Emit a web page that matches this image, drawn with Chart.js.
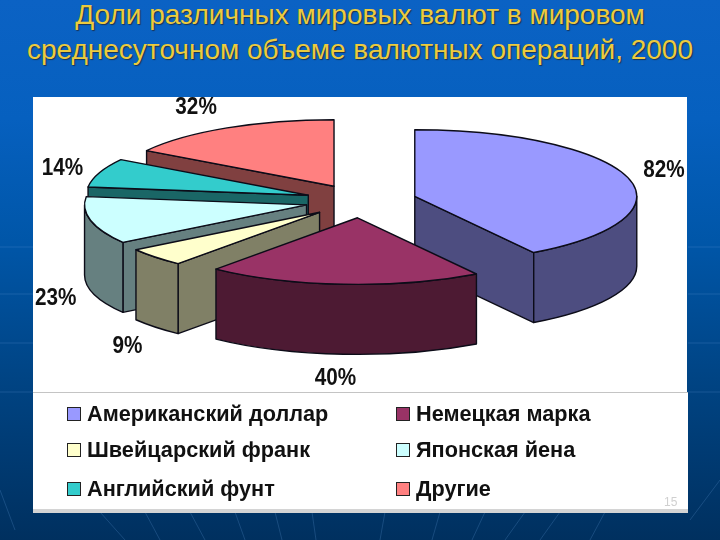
<!DOCTYPE html>
<html>
<head>
<meta charset="utf-8">
<script src="https://cdn.jsdelivr.net/npm/chart.js@4"></script>
<style>
html, body { margin: 0; padding: 0; }
body { width: 720px; height: 540px; overflow: hidden; position: relative; font-family: "Liberation Sans", Arial, sans-serif;
    background: linear-gradient(#0b62c4 0%, #0660bf 22%, #0056a8 45%, #004484 70%, #00305f 100%); }
#bg { position: absolute; left: 0; top: 0; }
#title { position: absolute; left: 0; top: -3px; width: 720px; text-align: center; margin: 0; font-weight: normal;
    font-size: 28px; line-height: 35px; color: #eccb3e; text-shadow: 1px 1px 1px #1c3350; white-space: nowrap; }
#panel { position: absolute; left: 33px; top: 97px; width: 654px; height: 415px; background: #fff; }
#legendBox { position: absolute; left: 33px; top: 392px; width: 655px; height: 116px; background: #fff;
    border-top: 1px solid #c4c4c4; border-bottom: 4px solid #d4d4d4; box-sizing: content-box; }
#chartWrap { position: absolute; left: 0; top: 0; width: 720px; height: 540px; }
.item { position: absolute; font-weight: bold; font-size: 21.7px; line-height: 24px; color: #111; white-space: nowrap; }
.item i { position: absolute; left: -20px; top: 5px; width: 12px; height: 12px; border: 1px solid #222; }
#num { position: absolute; left: 664px; top: 495px; font-size: 12px; color: #d0d0d0; }
</style>
</head>
<body>
<svg id="bg" width="720" height="540" stroke="#5f9ad8" stroke-opacity="0.25" fill="none">
    <path d="M0 247H33M0 294H33M0 343H33M0 392H33M688 247H720M688 294H720M688 343H720M688 392H720"/>
    <path d="M0 490L15 530M100 512L125 540M145 512L160 540M190 512L205 540M235 512L245 540M275 512L282 540M312 512L316 540"/>
    <path d="M385 512L380 540M440 512L432 540M485 512L472 540M525 512L505 540M560 512L540 540M605 512L590 540M720 480L690 520"/>
</svg>
<h1 id="title">Доли различных мировых валют в мировом<br>среднесуточном объеме валютных операций, 2000</h1>
<div id="panel"></div>
<div id="legendBox"></div>
<div id="chartWrap"><canvas id="pie3d" width="720" height="540"></canvas></div>
<div id="legend"></div>
<div id="num">15</div>

<script>
const currencies = ['Американский доллар', 'Немецкая марка', 'Швейцарский франк', 'Японская йена', 'Английский фунт', 'Другие'];
const shares = [82, 40, 9, 23, 14, 32];

const topColors = ['#9999ff', '#993366', '#ffffcc', '#ccffff', '#33cccc', '#ff8080'];
const wallColors = ['#4d4d80', '#4d1a33', '#808066', '#668080', '#1a6666', '#804040'];

// back to front, so nearer slices paint over the ones behind
const drawOrder = [5, 4, 3, 0, 2, 1];
// where each % label sits relative to the middle of its rim
const labelNudge = [[36, -7], [-8, 94], [-28, 90], [-35, 78], [-37, -4], [-31, -20]];

const squash = 0.3;
const depth = 70;
const pieCenterY = 201;

function sliceGeom(arc, offset) {
    const mid = (arc.startAngle + arc.endAngle) / 2;
    return {
        x: arc.x + Math.cos(mid) * offset,
        y: pieCenterY + Math.sin(mid) * offset * squash,
        rx: arc.outerRadius,
        ry: arc.outerRadius * squash,
        start: arc.startAngle,
        end: arc.endAngle,
        mid: mid
    };
}

function paint(ctx, fill) {
    ctx.fillStyle = fill;
    ctx.fill();
    ctx.stroke();
}

function cutFace(ctx, g, angle, wall) {
    const px = g.x + Math.cos(angle) * g.rx, py = g.y + Math.sin(angle) * g.ry;
    ctx.beginPath();
    ctx.moveTo(g.x, g.y);
    ctx.lineTo(px, py);
    ctx.lineTo(px, py + depth);
    ctx.lineTo(g.x, g.y + depth);
    ctx.closePath();
    paint(ctx, wall);
}

function drawSlice(ctx, g, top, wall) {
    // only the cut faces turned towards the viewer
    if (Math.cos(g.start) < 0) cutFace(ctx, g, g.start, wall);
    if (Math.cos(g.end) > 0) cutFace(ctx, g, g.end, wall);

    // rim, only the part that faces the viewer
    const a = Math.max(g.start, 0), b = Math.min(g.end, Math.PI);
    if (b > a) {
        ctx.beginPath();
        ctx.ellipse(g.x, g.y, g.rx, g.ry, 0, a, b);
        ctx.ellipse(g.x, g.y + depth, g.rx, g.ry, 0, b, a, true);
        ctx.closePath();
        paint(ctx, wall);
    }

    ctx.beginPath();
    ctx.moveTo(g.x, g.y);
    ctx.ellipse(g.x, g.y, g.rx, g.ry, 0, g.start, g.end);
    ctx.closePath();
    paint(ctx, top);
}

const pie3d = {
    id: 'pie3d',
    beforeDatasetDraw(chart) {
        const ctx = chart.ctx;
        const arcs = chart.getDatasetMeta(0).data;
        ctx.save();
        ctx.lineWidth = 1.4;
        ctx.lineJoin = 'round';
        ctx.strokeStyle = '#0c0c18';
        drawOrder.forEach(function (i) {
            const offset = arcs[i].options.offset / 4;
            drawSlice(ctx, sliceGeom(arcs[i], offset), topColors[i], wallColors[i]);
        });

        ctx.fillStyle = '#111';
        ctx.textAlign = 'center';
        ctx.textBaseline = 'middle';
        ctx.font = 'bold 23px "Liberation Sans"';
        arcs.forEach(function (arc, i) {
            const g = sliceGeom(arc, arc.options.offset / 4);
            const x = g.x + Math.cos(g.mid) * g.rx + labelNudge[i][0];
            const y = g.y + Math.sin(g.mid) * g.ry + labelNudge[i][1];
            ctx.save();
            ctx.translate(x, y);
            ctx.scale(0.9, 1);
            ctx.fillText(shares[i] + '%', 0, 0);
            ctx.restore();
        });
        ctx.restore();
        return false;
    }
};

new Chart(document.getElementById('pie3d').getContext('2d'), {
    type: 'pie',
    data: {
        labels: currencies,
        datasets: [{
            data: shares,
            backgroundColor: topColors,
            offset: 224,
            borderWidth: 0
        }]
    },
    options: {
        responsive: false,
        animation: false,
        radius: 222,
        layout: { padding: { left: 2 } },
        plugins: {
            legend: { display: false },
            tooltip: { enabled: false }
        }
    },
    plugins: [pie3d]
});

// legend fills two columns, row by row
const legendDiv = document.getElementById('legend');
const colX = [87, 416];
const rowY = [402, 438, 477];
currencies.forEach(function (name, i) {
    const el = document.createElement('div');
    el.className = 'item';
    el.style.left = colX[i % 2] + 'px';
    el.style.top = rowY[Math.floor(i / 2)] + 'px';
    el.innerHTML = '<i style="background:' + topColors[i] + '"></i>' + name;
    legendDiv.appendChild(el);
});
</script>
</body>
</html>
